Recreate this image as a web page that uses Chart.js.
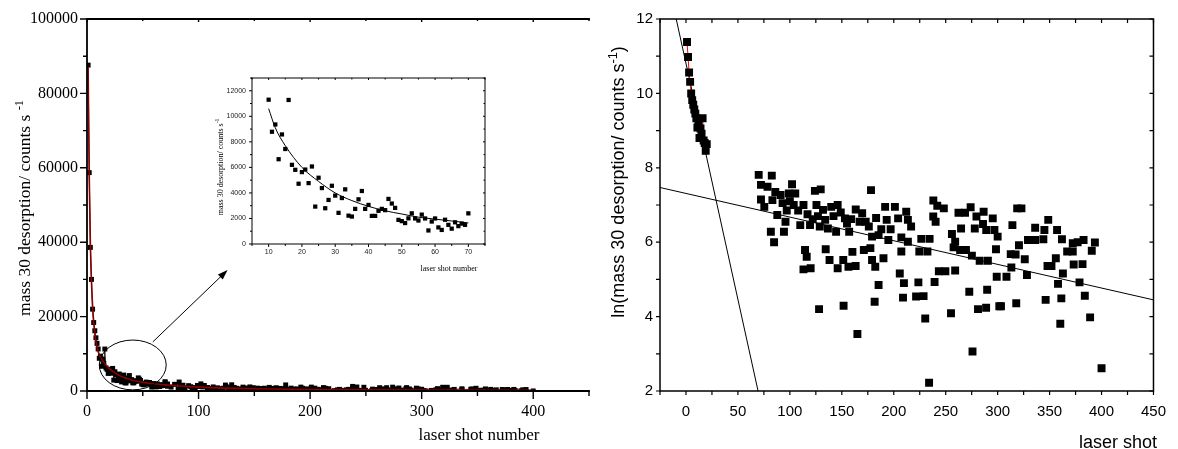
<!DOCTYPE html>
<html><head><meta charset="utf-8">
<script src="https://cdn.jsdelivr.net/npm/chart.js@4/dist/chart.umd.min.js"></script>
<style>
html,body{margin:0;padding:0;background:#fff;}
#wrap{position:relative;width:1178px;height:449px;overflow:hidden;background:#fff;}
canvas{position:absolute;}
</style></head><body>
<div id="wrap">
<canvas id="left" width="600" height="449" style="left:0;top:0"></canvas>
<canvas id="right" width="588" height="449" style="left:590px;top:0"></canvas>
<canvas id="inset" width="300" height="225" style="left:200px;top:60px"></canvas>
</div>
<script>
// ---------- data ----------
const earlyShots  = [1,2,3,4,5,6,7,8,9];
const earlyCounts = [87600,58700,38600,30000,22000,18400,16200,14300,12800];

const insetShots  = [10,11,12,13,14,15,16,17,18,19,20,21,22,23,24,25,26,27,28,29,30,31,32,33,34,35,36,37,38,39,40,
                     41,42,43,44,45,46,47,48,49,50,51,52,53,54,55,56,57,58,59,60,61,62,63,64,65,66,67,68,69,70];
const insetCounts = [11300,8790,9360,6640,8580,7440,11280,6200,5810,4720,5630,5830,4770,6070,2930,5190,4380,2800,3450,4560,3790,
                     2440,3600,4280,2220,2150,2750,3500,4150,2750,3060,2200,2200,2600,2750,2650,3530,3170,2830,1890,1790,
                     1640,2010,2400,2000,1840,2300,2000,1060,1760,2000,1300,1100,1900,1500,1200,1700,1400,1600,1500,2400];

const fitShots  = [1,2,3,4,5,6,7,8,10,12,15,20,25,30,35,40,45,50,55,60,65,70,80,100,150,200,300,400];
const fitCounts = [87000,58000,40000,29500,23000,18500,15500,13300,10600,9100,7700,6000,4900,4000,3400,2950,2600,2350,2100,1950,1800,1650,1400,1050,600,400,250,200];

// right panel (ln) cluster
const lnShots = [70.0,82.6,72.2,78.5,102.1,124.1,129.7,178.1,72.2,75.4,83.2,91.1,99.0,105.2,87.9,95.8,103.7,113.1,110.0,119.4,
  125.6,131.9,139.8,146.0,128.8,136.6,144.5,153.0,157.1,163.4,169.6,176.0,179.1,167.1,185.4,191.7,201.1,193.2,204.2,194.8,
  81.7,94.3,84.8,114.6,116.2,113.1,120.0,134.5,138.2,146.0,151.4,156.4,163.3,160.2,171.2,177.5,179.1,182.2,190.1,185.4,
  181.6,128.1,151.7,165.0,86,93,97,100,108,117,122,127,134,142,149,155,159,173,183,188,197,
  238.1,241.9,248.2,262.3,268.6,274.0,286.5,238.0,240.3,279.6,295.3,318.8,322.9,348.7,264.8,278.0,285.9,289.0,296.9,300.0,
  314.2,336.1,345.0,357.2,256.0,259.1,257.6,263.9,269.5,275.2,298.4,282.7,290.6,312.6,317.3,320.5,329.2,336.1,344.0,361.9,
  372.3,377.0,382.7,393.6,366.9,372.3,390.6,326.1,356.0,348.0,351.8,373.2,381.7,313.2,328.2,362.8,299.1,308.5,358.1,378.8,
  205.8,209.8,223.7,239.3,243.4,249.7,259.1,208.9,221.5,228.7,272.7,289.9,281.1,288.9,301.6,303.2,317.9,346.2,361.3,383.9,
  230.3,255.1,360.3,389.0,275.8,212.0,213.6,216.7,207.3,213.6,224.6,232.4,207.3,234.0,400.0,226.5,234.5];
const lnValues = [7.81,7.79,7.54,7.49,7.56,7.38,7.42,7.40,7.15,6.95,7.13,7.27,7.31,7.31,6.73,6.55,7.00,7.00,6.46,6.46,
  7.00,6.87,6.95,7.00,6.42,6.37,6.28,6.64,6.28,6.88,6.78,6.42,6.15,6.55,6.19,6.95,6.95,6.60,6.64,6.06,
  6.28,6.28,6.00,5.79,5.61,5.27,5.30,5.81,5.52,5.30,5.52,5.34,5.36,5.74,5.79,5.84,5.52,5.34,5.57,4.85,
  4.40,4.20,4.29,3.53,7.35,7.05,6.85,7.10,6.85,6.75,6.62,6.70,6.60,6.70,6.80,6.50,6.62,6.55,6.65,6.35,6.35,
  7.12,6.98,6.91,6.79,6.79,6.94,6.82,6.69,6.55,6.69,6.64,6.91,6.91,6.60,6.37,6.37,6.49,6.33,6.33,6.15,
  6.46,6.39,6.33,6.33,6.22,6.01,5.86,5.79,5.79,5.64,5.81,5.50,5.50,5.68,5.67,5.92,6.06,6.06,6.08,6.08,
  5.97,6.00,6.06,5.99,5.75,5.75,5.77,5.54,5.57,5.36,5.36,5.40,5.41,5.32,5.12,5.16,5.07,5.07,4.88,4.92,
  5.16,4.90,4.92,4.93,5.22,5.22,5.24,4.51,4.54,4.55,4.67,4.72,4.20,4.24,4.28,4.28,4.36,4.45,4.49,4.56,
  3.95,4.09,3.81,3.98,3.06,6.82,6.60,6.42,6.13,6.01,5.75,5.75,5.75,2.22,2.61,6.09,6.09];

// straight-line fits on the ln plot
const steepFitShots = [-9.4, 69.4];
const steepFitLn    = [12, 2];
const slowFitShots  = [-25, 450];
const slowFitLn     = [7.47, 4.45];

// tick labels
const leftXLabels  = [0,100,200,300,400];
const leftYLabels  = [0,20000,40000,60000,80000,100000];
const insetXLabels = [10,20,30,40,50,60,70];
const insetYLabels = [0,2000,4000,6000,8000,10000,12000];
const rightXLabels = [0,50,100,150,200,250,300,350,400,450];
const rightYLabels = [2,4,6,8,10,12];

// ---------- helpers ----------
const SERIF = '"Liberation Serif", "Times New Roman", serif';
const SANS  = '"Liberation Sans", Arial, sans-serif';

function pairs(xs, ys) { return xs.map((x, i) => ({x, y: ys[i]})); }

function drawRich(ctx, parts, x, y, rot, size, family) {
  ctx.save();
  ctx.translate(x, y); ctx.rotate(rot);
  ctx.fillStyle = '#000'; ctx.textBaseline = 'alphabetic'; ctx.textAlign = 'left';
  let w = 0;
  parts.forEach(p => { ctx.font = (p.sup ? size * 0.7 : size) + 'px ' + family; p.w = ctx.measureText(p.t).width; w += p.w; });
  let cx = -w / 2;
  parts.forEach(p => {
    ctx.font = (p.sup ? size * 0.7 : size) + 'px ' + family;
    ctx.fillText(p.t, cx, size * 0.35 + (p.sup ? -size * 0.42 : 0));
    cx += p.w;
  });
  ctx.restore();
}

function framePlugin(cfg) {
  return {
    id: 'frameTicks',
    afterDraw(chart) {
      const {ctx, chartArea: a, scales} = chart;
      const xs = scales.x, ys = scales.y;
      ctx.save();
      ctx.strokeStyle = cfg.color || '#000';
      ctx.lineWidth = cfg.lw;
      ctx.lineCap = 'square';
      ctx.beginPath();
      ctx.moveTo(a.left, a.top); ctx.lineTo(a.left, a.bottom); ctx.lineTo(a.right, a.bottom);
      ctx.moveTo(a.left, a.top); ctx.lineTo(a.right, a.top);
      if (cfg.right) { ctx.moveTo(a.right, a.top); ctx.lineTo(a.right, a.bottom); }
      ctx.stroke();
      ctx.lineCap = 'butt';
      ctx.lineWidth = cfg.tlw || cfg.lw;
      ctx.beginPath();
      xs.ticks.forEach(t => {
        const px = xs.getPixelForValue(t.value);
        const major = t.label !== '' && t.label !== undefined;
        const L = major ? cfg.xOut[0] : cfg.xOut[1];
        ctx.moveTo(px, a.bottom); ctx.lineTo(px, a.bottom + L);
        if (cfg.topIn) { const T = major ? cfg.topIn[0] : cfg.topIn[1]; ctx.moveTo(px, a.top); ctx.lineTo(px, a.top + T); }
      });
      ys.ticks.forEach(t => {
        const py = ys.getPixelForValue(t.value);
        const major = t.label !== '' && t.label !== undefined;
        const L = major ? cfg.yOut[0] : cfg.yOut[1];
        ctx.moveTo(a.left, py); ctx.lineTo(a.left - L, py);
        if (cfg.right && cfg.rightIn) { const R = major ? cfg.rightIn[0] : cfg.rightIn[1]; ctx.moveTo(a.right, py); ctx.lineTo(a.right - R, py); }
      });
      ctx.stroke();
      ctx.restore();
      if (cfg.extra) cfg.extra(chart);
    }
  };
}

function axisCommon(min, max, step, labels, fontFamily, fontSize, pad, color) {
  return {
    type: 'linear', min, max,
    grid: {display: false, drawTicks: false},
    border: {display: false},
    ticks: {
      stepSize: step, autoSkip: false, maxRotation: 0, minRotation: 0, padding: pad,
      color: color || '#000', font: {family: fontFamily, size: fontSize},
      callback: v => labels.includes(v) ? String(v) : ''
    }
  };
}

// ---------- left main panel ----------
const leftPoints = pairs(earlyShots, earlyCounts)
  .concat(pairs(insetShots, insetCounts))
  .concat(lnShots.map((x, i) => ({x, y: Math.exp(lnValues[i])})))
  .sort((p, q) => p.x - q.x);

const leftX = axisCommon(0, 450, 50, leftXLabels, SERIF, 16, 11);
leftX.afterFit = s => { s.height = 58; };
const leftY = axisCommon(0, 100000, 10000, leftYLabels, SERIF, 16, 9);
leftY.afterFit = s => { s.width = 87; };

new Chart(document.getElementById('left'), {
  type: 'scatter',
  data: {datasets: [
    {data: pairs(fitShots, fitCounts), showLine: true, borderColor: '#8b0000', borderWidth: 1.6, pointRadius: 0,
     cubicInterpolationMode: 'monotone', order: 0},
    {data: leftPoints, showLine: true, borderColor: '#000', borderWidth: 0.8, pointStyle: 'rect', pointRadius: 3.5,
     pointBackgroundColor: '#000', pointBorderWidth: 0, order: 1}
  ]},
  options: {
    responsive: false, animation: false, devicePixelRatio: 1, events: [],
    layout: {padding: {top: 19, right: 9, left: 0, bottom: 0}},
    plugins: {legend: {display: false}, tooltip: {enabled: false}},
    scales: {x: leftX, y: leftY}
  },
  plugins: [framePlugin({
    lw: 1.8, tlw: 1.4, xOut: [8, 5], topIn: [3, 2], yOut: [7, 4], right: false,
    extra(chart) {
      const {ctx} = chart; const xs = chart.scales.x, ys = chart.scales.y;
      const cx = xs.getPixelForValue(41), cy = ys.getPixelForValue(7000);
      const rx = xs.getPixelForValue(71) - cx, ry = cy - ys.getPixelForValue(13700);
      ctx.save();
      ctx.strokeStyle = '#000'; ctx.lineWidth = 1;
      ctx.beginPath(); ctx.ellipse(cx, cy, rx, ry, 0, 0, Math.PI * 2); ctx.stroke();
      const x0 = xs.getPixelForValue(59), y0 = ys.getPixelForValue(13200);
      const x1 = xs.getPixelForValue(126), y1 = ys.getPixelForValue(32500);
      const ang = Math.atan2(y1 - y0, x1 - x0);
      ctx.beginPath(); ctx.moveTo(x0, y0); ctx.lineTo(x1 - 6 * Math.cos(ang), y1 - 6 * Math.sin(ang)); ctx.stroke();
      ctx.fillStyle = '#000';
      ctx.beginPath();
      ctx.moveTo(x1, y1);
      ctx.lineTo(x1 - 10 * Math.cos(ang) + 3.5 * Math.sin(ang), y1 - 10 * Math.sin(ang) - 3.5 * Math.cos(ang));
      ctx.lineTo(x1 - 10 * Math.cos(ang) - 3.5 * Math.sin(ang), y1 - 10 * Math.sin(ang) + 3.5 * Math.cos(ang));
      ctx.closePath(); ctx.fill();
      ctx.restore();
      drawRich(ctx, [{t: 'mass 30 desorption/ counts s '}, {t: '-1', sup: true}], 24, 208, -Math.PI / 2, 17.5, SERIF);
      drawRich(ctx, [{t: 'laser shot number'}], 479, 434, 0, 17, SERIF);
    }
  })]
});

// ---------- inset ----------
const insetX = axisCommon(5, 75, 5, insetXLabels, SANS, 7, 4, '#222');
insetX.afterFit = s => { s.height = 41; };
const insetY = axisCommon(0, 13000, 1000, insetYLabels, SANS, 7, 6, '#222');
insetY.afterFit = s => { s.width = 52; };
const insetFit = pairs(fitShots, fitCounts).filter(p => p.x >= 10 && p.x <= 70);

new Chart(document.getElementById('inset'), {
  type: 'scatter',
  data: {datasets: [
    {data: insetFit, showLine: true, borderColor: '#000', borderWidth: 1, pointRadius: 0, cubicInterpolationMode: 'monotone', order: 0},
    {data: pairs(insetShots, insetCounts), pointStyle: 'rect', pointRadius: 3, pointBackgroundColor: '#000', pointBorderWidth: 0, order: 1}
  ]},
  options: {
    responsive: false, animation: false, devicePixelRatio: 1, events: [],
    layout: {padding: {top: 18, right: 15, left: 0, bottom: 0}},
    plugins: {legend: {display: false}, tooltip: {enabled: false}},
    scales: {x: insetX, y: insetY}
  },
  plugins: [framePlugin({
    lw: 1, xOut: [3, 2], topIn: [2, 1.5], yOut: [3, 2], right: true, rightIn: [2, 1.5],
    extra(chart) {
      drawRich(chart.ctx, [{t: 'mass 30 desorption/ counts s'}, {t: '-1', sup: true}], 20, 107, -Math.PI / 2, 8, SERIF);
      drawRich(chart.ctx, [{t: 'laser shot number'}], 249, 208, 0, 8, SERIF);
    }
  })]
});

// ---------- right panel (ln) ----------
const earlyLn = pairs(earlyShots, earlyCounts).concat(pairs(insetShots, insetCounts))
  .filter(p => p.x <= 20).map(p => ({x: p.x, y: Math.log(p.y)}));

const rightX = axisCommon(-25, 450, 25, rightXLabels, SANS, 15, 12);
rightX.afterFit = s => { s.height = 58; };
const rightY = axisCommon(2, 12, 1, rightYLabels, SANS, 15, 7);
rightY.afterFit = s => { s.width = 70; };

new Chart(document.getElementById('right'), {
  type: 'scatter',
  data: {datasets: [
    {data: pairs(steepFitShots, steepFitLn), showLine: true, borderColor: '#000', borderWidth: 1, pointRadius: 0, order: 3},
    {data: pairs(slowFitShots, slowFitLn), showLine: true, borderColor: '#000', borderWidth: 1, pointRadius: 0, order: 3},
    {data: earlyLn, showLine: true, borderColor: '#ff0000', borderWidth: 1, pointStyle: 'rect', pointRadius: 5.6,
     pointBackgroundColor: '#000', pointBorderWidth: 0, order: 1},
    {data: pairs(lnShots, lnValues), pointStyle: 'rect', pointRadius: 5.6, pointBackgroundColor: '#000', pointBorderWidth: 0, order: 2}
  ]},
  options: {
    responsive: false, animation: false, devicePixelRatio: 1, events: [],
    layout: {padding: {top: 19, right: 14, left: 0, bottom: 0}},
    plugins: {legend: {display: false}, tooltip: {enabled: false}},
    scales: {x: rightX, y: rightY}
  },
  plugins: [framePlugin({
    lw: 1.5, tlw: 1.2, xOut: [4, 4], topIn: [4, 4], yOut: [4, 4], right: true, rightIn: [4, 4],
    extra(chart) {
      drawRich(chart.ctx, [{t: 'ln(mass 30 desorption/ counts s'}, {t: '-1', sup: true}, {t: ')'}], 28, 182, -Math.PI / 2, 18, SANS);
      drawRich(chart.ctx, [{t: 'laser shot'}], 528, 442, 0, 18, SANS);
    }
  })]
});
</script>
</body></html>
